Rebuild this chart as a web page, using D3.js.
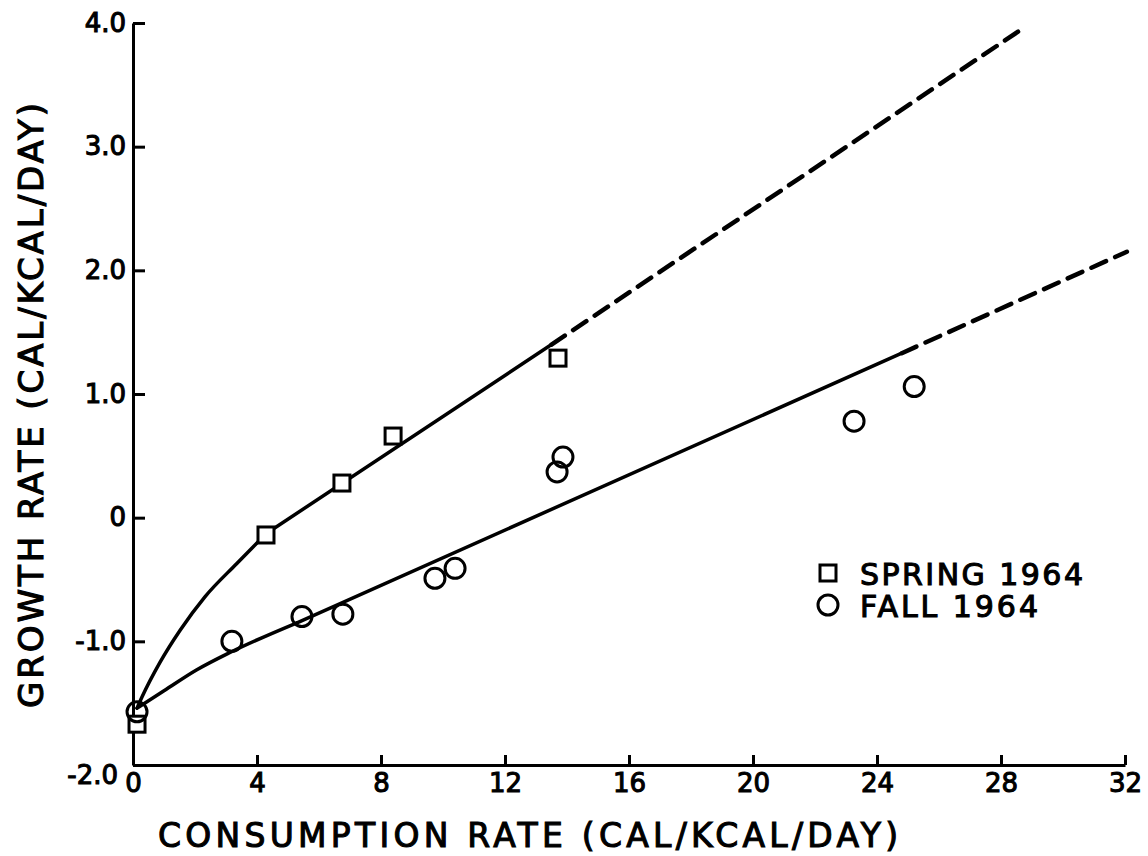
<!DOCTYPE html>
<html>
<head>
<meta charset="utf-8">
<title>Growth vs consumption</title>
<script src="https://cdn.jsdelivr.net/npm/d3@7"></script>
<style>
  body { margin: 0; background: #fff; }
  text { font-family: "DejaVu Sans", sans-serif; fill: #000; stroke: #000; stroke-width: 1.1px; }
  .axis path, .axis line { stroke: #000; stroke-width: 3; }
</style>
</head>
<body>
<div id="chart"></div>
<script>
// values
var xTicks = [0, 4, 8, 12, 16, 20, 24, 28, 32];
var yTicks = [-2, -1, 0, 1, 2, 3, 4];
var yTickLabels = ["-2.0", "-1.0", "0", "1.0", "2.0", "3.0", "4.0"];

var springX = [0.13, 4.29, 6.74, 8.39, 13.71];
var springY = [-1.67, -0.14, 0.28, 0.66, 1.29];
var fallX = [0.13, 3.19, 5.45, 6.77, 9.74, 10.39, 13.68, 13.87, 23.26, 25.2];
var fallY = [-1.57, -1.0, -0.8, -0.78, -0.49, -0.41, 0.37, 0.49, 0.78, 1.06];

// fitted curves: curved start, straight solid part, dashed extension
var springBendX = [0.13, 0.29, 0.87, 1.52, 2.32, 3.35, 4.29];
var springBendY = [-1.54, -1.45, -1.17, -0.91, -0.64, -0.37, -0.13];
var springLineX = [4.29, 13.5];
var springLineY = [-0.13, 1.40];
var springDashX = [13.5, 28.55];
var springDashY = [1.40, 3.93];
var fallBendX = [0.13, 1.0, 2.06, 3.13, 5.29];
var fallBendY = [-1.54, -1.40, -1.23, -1.09, -0.85];
var fallLineX = [5.29, 24.8];
var fallLineY = [-0.85, 1.33];
var fallDashX = [24.8, 32.06];
var fallDashY = [1.33, 2.15];

var legendLabels = ["SPRING 1964", "FALL 1964"];

var width = 1148, height = 856;
var svg = d3.select("#chart").append("svg")
    .attr("width", width)
    .attr("height", height);

var x = d3.scaleLinear().domain([0, 32]).range([133, 1125]);
var y = d3.scaleLinear().domain([-2, 4]).range([765, 23]);

// axes, ticks pointing inward
var xAxis = svg.append("g")
    .attr("class", "axis")
    .attr("transform", "translate(0," + y(-2) + ")")
    .call(d3.axisBottom(x).tickValues(xTicks).tickSize(-10).tickSizeOuter(0).tickPadding(9)
      .tickFormat(d3.format("d")));

var yAxis = svg.append("g")
    .attr("class", "axis")
    .attr("transform", "translate(" + x(0) + ",0)")
    .call(d3.axisLeft(y).tickValues(yTicks).tickSize(-12).tickSizeOuter(0).tickPadding(7)
      .tickFormat(function(d, i) { return yTickLabels[i]; }));

svg.selectAll(".axis").attr("font-family", null);
svg.selectAll(".axis text").attr("font-size", 26);
// -2.0 label sits a little below the corner
yAxis.selectAll(".tick").filter(function(d) { return d === -2; })
    .select("text").attr("dy", "0.72em").attr("x", -15);

// curves
function pairs(a, b) { return a.map(function(v, i) { return [v, b[i]]; }); }

var bend = d3.line()
    .x(function(d) { return x(d[0]); })
    .y(function(d) { return y(d[1]); })
    .curve(d3.curveMonotoneX);

var curves = [
  { pts: pairs(springBendX, springBendY), dash: null },
  { pts: pairs(springLineX, springLineY), dash: null },
  { pts: pairs(springDashX, springDashY), dash: "16,10" },
  { pts: pairs(fallBendX, fallBendY), dash: null },
  { pts: pairs(fallLineX, fallLineY), dash: null },
  { pts: pairs(fallDashX, fallDashY), dash: "16,10" }
];

svg.selectAll(".curve")
  .data(curves)
  .enter().append("path")
    .attr("class", "curve")
    .attr("d", function(d) { return bend(d.pts); })
    .attr("fill", "none")
    .attr("stroke", "#000")
    .attr("stroke-width", function(d) { return d.dash ? 4.5 : 3.5; })
    .attr("stroke-linecap", "round")
    .attr("stroke-dasharray", function(d) { return d.dash; });

// markers
svg.selectAll(".sq")
  .data(pairs(springX, springY))
  .enter().append("rect")
    .attr("class", "sq")
    .attr("x", function(d) { return x(d[0]) - 8; })
    .attr("y", function(d) { return y(d[1]) - 8; })
    .attr("width", 16)
    .attr("height", 16)
    .attr("fill", "#fff")
    .attr("stroke", "#000")
    .attr("stroke-width", 3);

svg.selectAll(".circ")
  .data(pairs(fallX, fallY))
  .enter().append("circle")
    .attr("class", "circ")
    .attr("cx", function(d) { return x(d[0]); })
    .attr("cy", function(d) { return y(d[1]); })
    .attr("r", 10)
    .attr("fill", "none")
    .attr("stroke", "#000")
    .attr("stroke-width", 3);

// legend
var legend = svg.selectAll(".legend")
  .data(legendLabels)
  .enter().append("g")
    .attr("class", "legend")
    .attr("transform", function(d, i) { return "translate(828," + (573 + i * 32) + ")"; });

legend.filter(function(d, i) { return i === 0; }).append("rect")
    .attr("x", -8).attr("y", -8).attr("width", 16).attr("height", 16)
    .attr("fill", "none").attr("stroke", "#000").attr("stroke-width", 3);
legend.filter(function(d, i) { return i === 1; }).append("circle")
    .attr("r", 10)
    .attr("fill", "none").attr("stroke", "#000").attr("stroke-width", 3);

legend.append("text")
    .attr("x", 32)
    .attr("y", 12)
    .attr("font-size", 30)
    .attr("textLength", function(d, i) { return i === 0 ? 223 : 178; })
    .attr("lengthAdjust", "spacing")
    .text(function(d) { return d; });

// axis titles
svg.append("text")
    .attr("x", 158)
    .attr("y", 847)
    .attr("font-size", 33)
    .attr("textLength", 740)
    .attr("lengthAdjust", "spacing")
    .text("CONSUMPTION RATE (CAL/KCAL/DAY)");

svg.append("text")
    .attr("transform", "translate(43,708) rotate(-90)")
    .attr("font-size", 34)
    .attr("textLength", 605)
    .attr("lengthAdjust", "spacing")
    .text("GROWTH RATE (CAL/KCAL/DAY)");
</script>
</body>
</html>
